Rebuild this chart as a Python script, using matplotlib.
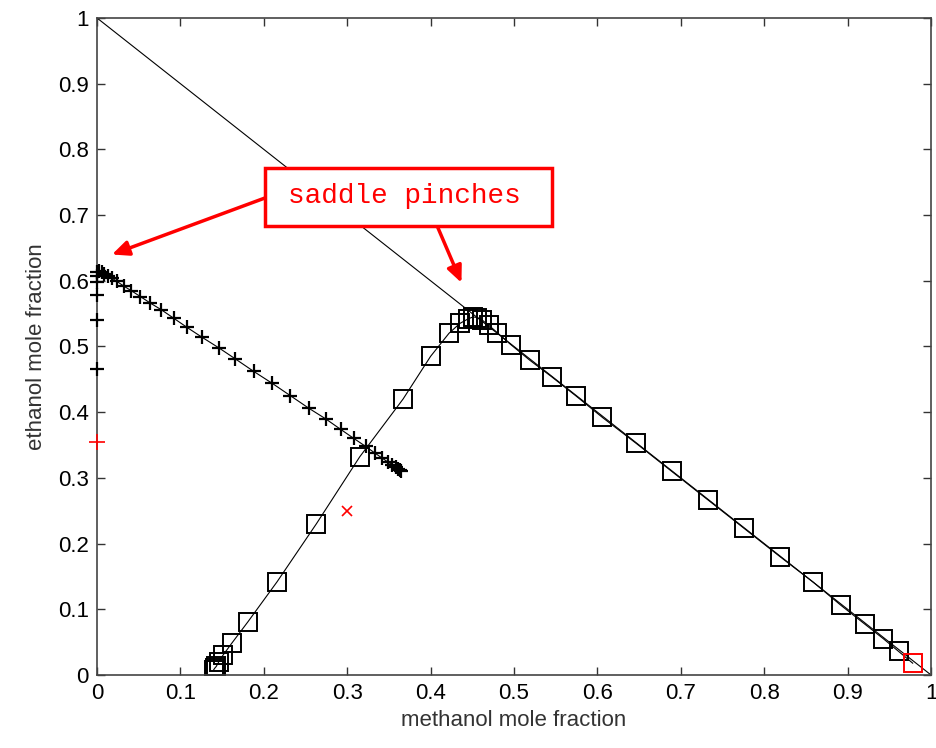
import matplotlib
matplotlib.use("Agg")
import matplotlib.pyplot as plt
from matplotlib.patches import Rectangle

# "+" trajectory (black)
plus_x = [0.003, 0.006, 0.009, 0.013, 0.018, 0.024, 0.032, 0.041, 0.052, 0.064, 0.077,
          0.092, 0.108, 0.126, 0.146, 0.166, 0.188, 0.21, 0.232, 0.254, 0.274, 0.292,
          0.308, 0.322, 0.333, 0.342, 0.349, 0.354, 0.358, 0.361, 0.363, 0.365]
plus_y = [0.615, 0.613, 0.611, 0.608, 0.604, 0.599, 0.592, 0.585, 0.576, 0.566, 0.556,
          0.543, 0.529, 0.514, 0.498, 0.481, 0.462, 0.444, 0.425, 0.406, 0.39, 0.374,
          0.36, 0.348, 0.338, 0.33, 0.324, 0.32, 0.317, 0.314, 0.312, 0.31]

# "+" points sitting on the ethanol axis
edge_x = [0.0, 0.0, 0.0, 0.0, 0.0, 0.0]
edge_y = [0.465, 0.54, 0.578, 0.598, 0.608, 0.613]

# square trajectory (black)
sq_x = [0.14, 0.141, 0.143, 0.146, 0.151, 0.162, 0.181, 0.216, 0.263, 0.315, 0.367, 0.4,
        0.422, 0.435, 0.445, 0.451, 0.456, 0.462, 0.47, 0.48, 0.496, 0.519, 0.545, 0.574,
        0.606, 0.646, 0.689, 0.733, 0.776, 0.819, 0.859, 0.892, 0.921, 0.943, 0.961]
sq_y = [0.008, 0.01, 0.013, 0.02, 0.03, 0.049, 0.081, 0.142, 0.23, 0.332, 0.42, 0.485,
        0.52, 0.535, 0.542, 0.545, 0.544, 0.54, 0.532, 0.521, 0.503, 0.479, 0.454, 0.425,
        0.392, 0.353, 0.31, 0.266, 0.223, 0.18, 0.141, 0.106, 0.077, 0.055, 0.036]

# red special points
red_plus = (0.0, 0.354)
red_x = (0.3, 0.25)
red_sq = (0.978, 0.018)

# triangle edge
edge_line_x = [0, 1]
edge_line_y = [1, 0]

plt.rcParams['font.family'] = ['Liberation Sans', 'DejaVu Sans']

fig = plt.figure(figsize=(9.36, 7.48), dpi=100)
ax = fig.add_axes([0.1036, 0.0976, 0.8911, 0.8784])

ax.plot(edge_line_x, edge_line_y, color="black", lw=0.8)

ax.plot(plus_x, plus_y, color="black", lw=0.8, marker="+", ms=9.5, mew=1.6)
ax.plot(edge_x, edge_y, color="black", lw=0, marker="+", ms=9.5, mew=1.6,
        clip_on=False, zorder=5)

ax.plot(sq_x + [red_sq[0]], sq_y + [red_sq[1]], color="black", lw=0.8)
ax.plot(sq_x, sq_y, color="black", lw=0, marker="s", ms=13, mfc="none", mew=1.4)

ax.plot(*red_plus, color="red", marker="+", ms=12, mew=1.2, clip_on=False, zorder=6)
ax.plot(*red_x, color="red", marker="x", ms=7, mew=1.2)
ax.plot(*red_sq, color="red", marker="s", ms=13, mfc="none", mew=1.4)

ax.set_xlim(0, 1)
ax.set_ylim(0, 1)
ax.set_xticks([i / 10 for i in range(11)])
ax.set_yticks([i / 10 for i in range(11)])
ax.set_xticklabels(["0", "0.1", "0.2", "0.3", "0.4", "0.5", "0.6", "0.7", "0.8", "0.9", "1"])
ax.set_yticklabels(["0", "0.1", "0.2", "0.3", "0.4", "0.5", "0.6", "0.7", "0.8", "0.9", "1"])
ax.tick_params(direction="in", length=6, width=1, top=True, right=True,
               labelsize=16, pad=6, color="#333333")
for s in ax.spines.values():
    s.set_color("#444444")
    s.set_linewidth(1.2)

ax.set_xlabel("methanol mole fraction", fontsize=16, color="#333333", labelpad=4)
ax.set_ylabel("ethanol mole fraction", fontsize=16, color="#333333", labelpad=8)

# annotation box + arrows
arrow = dict(arrowstyle="-|>,head_length=1.0,head_width=0.45", color="red", lw=2.5,
             shrinkA=0, shrinkB=0)
ax.annotate("", xy=(0.018, 0.64), xytext=(0.2014, 0.726), arrowprops=arrow)
ax.annotate("", xy=(0.437, 0.597), xytext=(0.408, 0.683), arrowprops=arrow)
ax.add_patch(Rectangle((0.2014, 0.683), 0.3442, 0.089, fc="white", ec="red", lw=2.5,
                       zorder=4))
ax.text(0.368, 0.729, "saddle pinches", family="Liberation Mono", fontsize=20,
        color="red", ha="center", va="center", zorder=5)

fig.savefig("out.png", dpi=100)
